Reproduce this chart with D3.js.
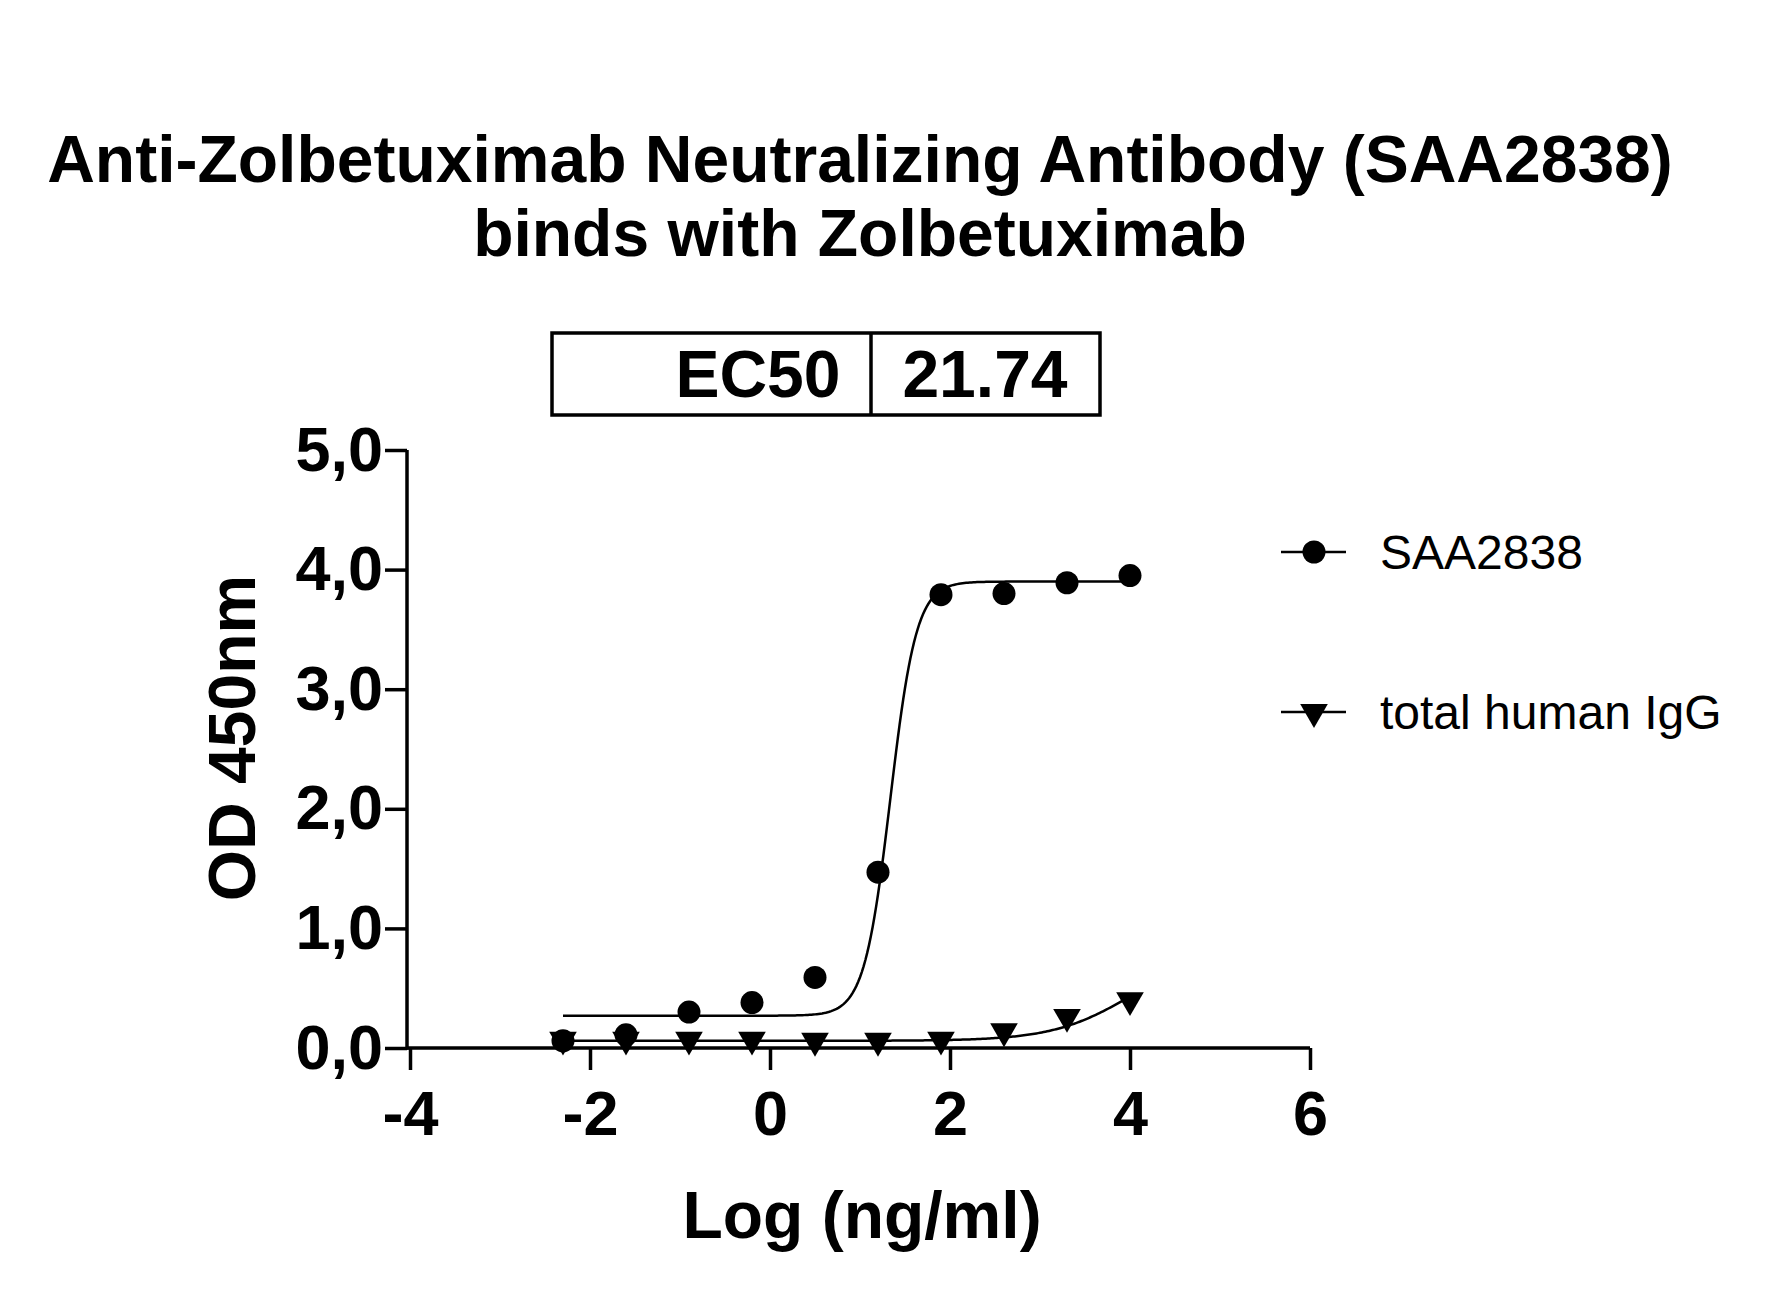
<!DOCTYPE html><html><head><meta charset="utf-8">
<script src="https://cdn.jsdelivr.net/npm/d3@7"></script>
<style>body{margin:0;background:#fff}text{font-family:"Liberation Sans",Arial,sans-serif}</style></head><body>
<svg id="c" width="1786" height="1295"></svg>
<script>
const logConc=[-2.3,-1.6,-0.9,-0.2,0.5,1.2,1.9,2.6,3.3,4.0];
const saa=[0.06,0.11,0.30,0.38,0.59,1.47,3.79,3.80,3.89,3.95];
const igg=[0.07,0.07,0.07,0.07,0.06,0.06,0.07,0.14,0.26,0.40];
const saaFit=[0.27,3.90,Math.log10(21.74),3.0]; // bottom, top, logEC50, hill
const iggFit=[0.06,0.80,4.0,1.0];
const xTicks=[-4,-2,0,2,4,6], yTicks=[0,1,2,3,4,5];
const seriesNames=["SAA2838","total human IgG"];
const ec50Label=["EC50","21.74"];

const svg=d3.select("#c");
const x=d3.scaleLinear().domain([-4,6]).range([410,1310]);
const y=d3.scaleLinear().domain([0,5]).range([1048,450]);
const fmt=v=>d3.format(".1f")(v).replace(".",",");
const xa=svg.append("g").attr("transform","translate(0,1048)").call(d3.axisBottom(x).tickValues(xTicks).tickFormat(d=>String(d)).tickSize(22).tickSizeOuter(0).tickPadding(18));
const ya=svg.append("g").attr("transform","translate(407,0)").call(d3.axisLeft(y).tickValues(yTicks).tickFormat(fmt).tickSize(22).tickSizeOuter(0).tickPadding(2));
[xa,ya].forEach(a=>{a.selectAll("path,line").attr("stroke","#000").attr("stroke-width",3.5);a.selectAll("text").attr("font-size",63).attr("font-weight","bold").attr("fill","#000");});
xa.select(".domain").attr("d","M407,0H1310");
ya.select(".domain").attr("d","M0,1049.7V450");
xa.selectAll("text").attr("dy","0.75em");
const f4=(p,v)=>p[0]+(p[1]-p[0])/(1+Math.pow(10,(p[2]-v)*p[3]));
const xs=d3.range(-2.3,4.0001,0.02);
const line=d3.line().x(d=>x(d[0])).y(d=>y(d[1]));
[saaFit,iggFit].forEach(p=>svg.append("path").attr("d",line(xs.map(v=>[v,f4(p,v)]))).attr("fill","none").attr("stroke","#000").attr("stroke-width",2.5));
svg.selectAll(".c").data(saa).join("circle").attr("cx",(d,i)=>x(logConc[i])).attr("cy",d=>y(d)).attr("r",11.5);
const tri=d3.symbol().type(d3.symbolTriangle).size(330);
svg.selectAll(".t").data(igg).join("path").attr("d",tri).attr("transform",(d,i)=>`translate(${x(logConc[i])},${y(d)}) rotate(180)`);
// legend
[552,712].forEach((ly,i)=>{
 svg.append("line").attr("x1",1281).attr("x2",1346).attr("y1",ly).attr("y2",ly).attr("stroke","#000").attr("stroke-width",2.5);
 if(i==0)svg.append("circle").attr("cx",1314).attr("cy",ly).attr("r",11.5);
 else svg.append("path").attr("d",tri).attr("transform",`translate(1314,${ly}) rotate(180)`);
 svg.append("text").attr("x",1380).attr("y",ly+17).attr("font-size",48).text(seriesNames[i]);
});
// title
svg.append("text").attr("x",860).attr("y",182).attr("text-anchor","middle").attr("font-size",66).attr("font-weight","bold").text("Anti-Zolbetuximab Neutralizing Antibody (SAA2838)");
svg.append("text").attr("x",860).attr("y",256).attr("text-anchor","middle").attr("font-size",66).attr("font-weight","bold").text("binds with Zolbetuximab");
// EC50 box
svg.append("rect").attr("x",552).attr("y",333).attr("width",548).attr("height",82).attr("fill","none").attr("stroke","#000").attr("stroke-width",3.5);
svg.append("line").attr("x1",871).attr("x2",871).attr("y1",333).attr("y2",415).attr("stroke","#000").attr("stroke-width",3.5);
svg.append("text").attr("x",758).attr("y",397).attr("text-anchor","middle").attr("font-size",66).attr("font-weight","bold").text(ec50Label[0]);
svg.append("text").attr("x",985).attr("y",397).attr("text-anchor","middle").attr("font-size",66).attr("font-weight","bold").text(ec50Label[1]);
// axis titles
svg.append("text").attr("transform","translate(255,738) rotate(-90)").attr("text-anchor","middle").attr("font-size",66).attr("font-weight","bold").text("OD 450nm");
svg.append("text").attr("x",862).attr("y",1238).attr("text-anchor","middle").attr("font-size",66).attr("font-weight","bold").text("Log (ng/ml)");
</script></body></html>
